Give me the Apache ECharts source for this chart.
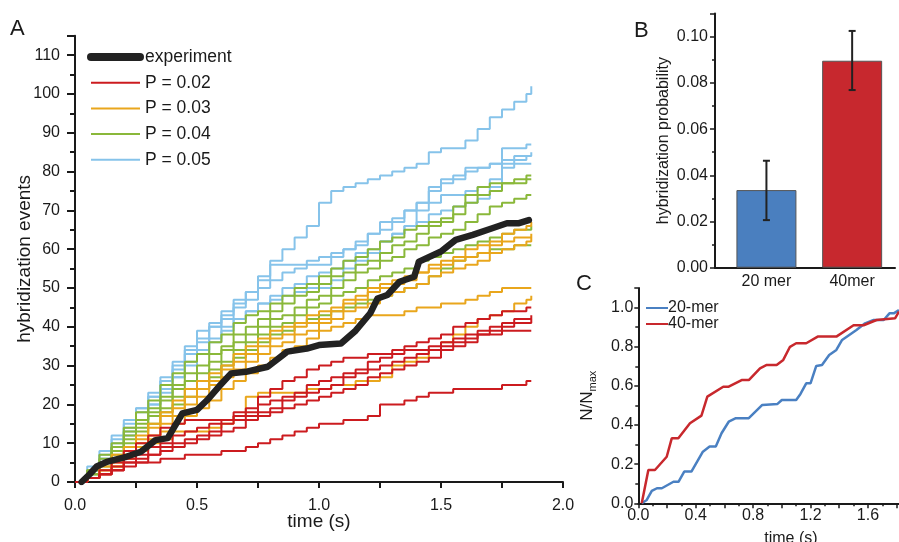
<!DOCTYPE html>
<html><head><meta charset="utf-8">
<script src="https://cdn.jsdelivr.net/npm/echarts@6/dist/echarts.min.js"></script>
<style>html,body{margin:0;padding:0;background:#fff}#c{width:899px;height:542px}</style>
</head><body><div id="c"></div><script>
// ---------- Panel A data ----------
const T = [0,0.05,0.1,0.15,0.2,0.25,0.3,0.35,0.4,0.45,0.5,0.55,0.6,0.65,0.7,0.75,0.8,0.85,0.9,0.95,1.0,1.05,1.1,1.15,1.2,1.25,1.3,1.35,1.4,1.45,1.5,1.55,1.6,1.65,1.7,1.75,1.8,1.85,1.87];
const p05a = [0,3,7,11,16,19,23,27,31,35,39,41,44,47,49,53,57,60,63,66,72,75,76,77,78,79,80,81,82,85,86,86,88,91,94,96,98,100,102];
const p05b = [0,2,5,8,12,16,20,24,27,31,34,37,40,42,44,46,47,48,49,50,50,52,55,57,59,62,64,66,70,72,74,74,75,76,78,86,86,87,87];
const p05c = [0,3,6,10,14,18,22,26,29,33,36,40,43,46,49,52,56,56,56,56,56,58,60,62,64,65,67,70,72,75,77,78,80,81,82,83,84,84,85];
const p05d = [0,3,6,9,13,16,20,23,27,30,33,36,39,42,44,46,48,50,51,53,54,55,57,59,60,62,64,66,67,69,70,71,72,73,76,81,83,84,84];
const p05e = [0,4,8,12,15,19,22,26,30,34,37,40,42,45,47,50,52,54,55,57,58,59,60,61,64,67,68,70,72,76,78,79,81,81,82,82,82,82,82];
const p04a = [0,3,7,10,14,18,21,25,28,31,33,36,38,41,43,44,46,48,50,51,53,55,57,58,60,62,63,65,66,67,68,71,74,76,77,77,78,79,79];
const p04b = [0,3,6,9,13,16,19,22,25,28,30,33,35,38,40,42,44,46,48,49,51,53,54,56,57,59,61,62,64,66,67,69,72,74,75,77,77,78,78];
const p04c = [0,2,5,9,12,15,18,21,24,26,28,31,34,36,38,40,42,43,45,47,48,50,52,54,55,57,58,60,61,63,64,65,67,69,71,72,73,74,74];
const p04d = [0,2,5,8,11,14,17,19,22,24,26,29,31,34,36,38,40,41,43,45,46,48,49,50,52,53,54,55,57,58,59,60,61,62,63,64,65,65,66];
const p04e = [0,2,4,7,10,13,15,18,20,22,24,27,30,32,34,36,38,39,41,42,43,44,45,46,47,48,49,50,51,53,55,57,58,59,60,60,61,61,61];
const p03a = [0,1,4,7,9,12,15,18,21,24,26,28,30,33,35,37,39,40,41,43,44,45,47,48,50,51,52,53,54,56,57,58,60,61,62,64,65,66,67];
const p03b = [0,1,3,6,8,11,14,17,19,22,24,26,29,31,33,35,37,38,40,41,42,44,46,47,49,50,51,52,54,55,56,57,58,59,61,62,63,63,64];
const p03c = [0,1,3,5,7,10,12,15,17,20,22,25,27,29,31,33,35,36,38,39,41,42,44,45,46,48,49,50,51,53,54,55,56,57,59,60,61,62,63];
const p03d = [0,1,2,4,7,9,11,13,15,17,19,21,24,26,28,30,32,34,35,37,39,40,41,42,43,43,43,44,45,45,46,46,47,48,49,50,50,50,50];
const p03e = [0,1,3,4,6,8,10,11,13,13,13,14,15,17,22,23,23,23,23,24,24,25,25,26,26,27,30,31,32,34,36,38,40,42,43,44,46,47,48];
const p02a = [0,1,3,5,8,10,12,14,15,16,16,16,16,18,19,22,24,26,27,29,30,31,32,32,33,33,34,35,36,37,38,40,41,42,43,44,44,45,45];
const p02b = [0,1,2,4,6,7,9,10,12,13,14,15,16,17,18,20,21,22,23,25,26,27,28,29,31,32,33,34,34,35,36,37,38,39,40,41,42,42,43];
const p02c = [0,1,2,3,5,6,7,9,10,11,12,13,15,16,17,18,19,21,22,23,24,25,27,28,29,30,31,32,33,34,35,36,37,38,39,40,41,41,42];
const p02d = [0,1,2,3,4,5,7,8,9,10,11,12,13,14,16,17,18,19,20,21,22,23,24,25,27,28,29,30,31,32,34,35,36,38,38,39,39,39,39];
const p02e = [0,1,2,3,5,5,5,6,6,7,7,7,8,8,9,10,11,12,13,14,15,15,16,16,17,20,20,21,22,23,23,24,24,24,24,25,25,26,26];
const expT = [0.027,0.06,0.089,0.13,0.21,0.27,0.33,0.38,0.44,0.5,0.54,0.59,0.64,0.7,0.79,0.87,0.95,1.0,1.09,1.15,1.21,1.24,1.28,1.33,1.39,1.41,1.5,1.56,1.63,1.71,1.77,1.82,1.86];
const expV = [0,2,4,5.2,6.5,7.8,10.8,11.3,17.7,18.6,21,24.6,28,28.4,29.7,33.6,34.4,35.3,35.7,39,43.5,47.3,48.2,51.6,52.9,56.8,59.4,62.4,63.7,65.4,66.7,66.7,67.5];

// ---------- Panel B data ----------
const barCats = ['20 mer','40mer'];
const barVals = [0.0336,0.0896];
const barLow = [0.0206,0.0769];
const barHigh = [0.0463,0.1025];

// ---------- Panel C data ----------
const t20 = [0.024,0.059,0.094,0.13,0.164,0.245,0.28,0.32,0.37,0.45,0.497,0.54,0.58,0.63,0.68,0.77,0.864,0.97,1.0,1.1,1.13,1.17,1.2,1.24,1.28,1.33,1.38,1.42,1.52,1.58,1.64,1.71,1.75,1.78,1.816];
const v20 = [0,0.017,0.063,0.077,0.077,0.11,0.11,0.162,0.162,0.264,0.29,0.29,0.358,0.417,0.435,0.435,0.503,0.508,0.528,0.528,0.559,0.613,0.613,0.702,0.707,0.758,0.784,0.835,0.886,0.92,0.937,0.937,0.971,0.971,0.988];
const t40 = [0.024,0.07,0.116,0.198,0.233,0.279,0.36,0.44,0.481,0.592,0.63,0.72,0.77,0.848,0.895,0.964,1.01,1.057,1.1,1.17,1.25,1.38,1.5,1.57,1.66,1.79,1.816];
const v40 = [0,0.17,0.17,0.238,0.332,0.332,0.409,0.448,0.545,0.596,0.596,0.63,0.63,0.69,0.707,0.707,0.733,0.8,0.818,0.818,0.852,0.852,0.91,0.91,0.937,0.946,0.98];

const FONT = '"Liberation Sans", Arial, Helvetica, sans-serif';
const INK = '#1a1a1a';
const COL = {'P = 0.02':'#cc1b1f','P = 0.03':'#e9a61c','P = 0.04':'#8ab83a','P = 0.05':'#86c3ea'};

function zip(a,b){return a.map((x,i)=>[x,b[i]]);}
function sim(name, vals){
  return {type:'line', name:name, xAxisIndex:0, yAxisIndex:0, step:'end', symbol:'none',
    data: zip(T, vals), lineStyle:{color:COL[name], width:2}, itemStyle:{color:COL[name]}, z:2};
}
function mult(v,s){return Math.abs(v/s - Math.round(v/s)) < 1e-6;}

const axisLineS = {lineStyle:{color:INK, width:2}};
const lbl = (extra)=>Object.assign({fontFamily:FONT, fontSize:16, color:INK}, extra);

const series = [];
[p05a,p05b,p05c,p05d,p05e].forEach(v=>series.push(sim('P = 0.05', v)));
[p04a,p04b,p04c,p04d,p04e].forEach(v=>series.push(sim('P = 0.04', v)));
[p03a,p03b,p03c,p03d,p03e].forEach(v=>series.push(sim('P = 0.03', v)));
[p02a,p02b,p02c,p02d,p02e].forEach(v=>series.push(sim('P = 0.02', v)));
series.push({type:'line', name:'experiment', xAxisIndex:0, yAxisIndex:0, symbol:'none', data: zip(expT, expV),
  lineStyle:{color:'#222', width:6.5, cap:'round', join:'round'}, itemStyle:{color:'#222'}, z:5});

series.push({type:'bar', xAxisIndex:1, yAxisIndex:1, barWidth:60,
  data: barVals.map((v,i)=>({value:[i+1, v], itemStyle:{color: i===0 ? '#4a7fbf' : '#c7282e'}})),
  itemStyle:{borderColor:'#555', borderWidth:1}});
series.push({type:'custom', xAxisIndex:1, yAxisIndex:1, z:10,
  data: barVals.map((v,i)=>[i+1, barLow[i], barHigh[i]]),
  renderItem:function(p, api){
    const top = api.coord([api.value(0), api.value(2)]);
    const bot = api.coord([api.value(0), api.value(1)]);
    const x = top[0], st = {stroke:'#222', lineWidth:2};
    return {type:'group', children:[
      {type:'line', shape:{x1:x, y1:top[1], x2:x, y2:bot[1]}, style:st},
      {type:'line', shape:{x1:x-3.5, y1:top[1], x2:x+3.5, y2:top[1]}, style:st},
      {type:'line', shape:{x1:x-3.5, y1:bot[1], x2:x+3.5, y2:bot[1]}, style:st}
    ]};
  }});

series.push({type:'line', name:'20-mer', xAxisIndex:2, yAxisIndex:2, symbol:'none', data: zip(t20, v20),
  lineStyle:{color:'#4a80c2', width:2.5}, itemStyle:{color:'#4a80c2'}});
series.push({type:'line', name:'40-mer', xAxisIndex:2, yAxisIndex:2, symbol:'none', data: zip(t40, v40),
  lineStyle:{color:'#c8282d', width:2.5}, itemStyle:{color:'#c8282d'}});

const option = {
  animation:false,
  backgroundColor:'#fff',
  textStyle:{fontFamily:FONT},
  grid:[
    {left:75, top:35.8, width:488, height:446.2, outerBoundsMode:'none'},
    {left:715, top:13.6, width:180, height:254.1, outerBoundsMode:'none'},
    {left:638.3, top:288.1, width:261.2, height:215.2, outerBoundsMode:'none'}
  ],
  legend:[
    {data:[{name:'experiment', lineStyle:{width:8, cap:'round'}},'P = 0.02','P = 0.03','P = 0.04','P = 0.05'],
     orient:'vertical', left:82, top:42, padding:5,
     itemWidth:49, itemHeight:14, itemGap:5.7, itemStyle:{opacity:0},
     textStyle:{fontFamily:FONT, fontSize:17.5, color:INK, lineHeight:20}},
    {data:['20-mer','40-mer'], orient:'vertical', left:640, top:295, padding:5,
     itemWidth:22, itemHeight:12, itemGap:0, itemStyle:{opacity:0},
     textStyle:{fontFamily:FONT, fontSize:16, color:INK, lineHeight:16, padding:[0,0,0,-5]}}
  ],
  xAxis:[
    {type:'value', gridIndex:0, min:0, max:2, interval:0.5, axisLine:axisLineS,
     axisTick:{length:6, lineStyle:{color:INK, width:2}},
     minorTick:{show:true, splitNumber:2, length:6, lineStyle:{color:INK, width:2}},
     axisLabel:lbl({formatter:v=>v.toFixed(1), margin:16}), splitLine:{show:false},
     name:'time (s)', nameLocation:'middle', nameGap:30, nameMoveOverlap:false,
     nameTextStyle:{fontFamily:FONT, fontSize:19, color:INK}},
    {type:'value', gridIndex:1, min:0.4, max:2.5, axisLine:axisLineS, axisTick:{show:false},
     axisLabel:lbl({customValues:[1,2], formatter:v=>barCats[Math.round(v)-1] || '', margin:6}), splitLine:{show:false}},
    {type:'value', gridIndex:2, min:0, max:1.82, interval:0.2, axisLine:axisLineS,
     axisTick:{length:5, lineStyle:{color:INK, width:1.5}},
     minorTick:{show:true, splitNumber:2, length:3, lineStyle:{color:INK, width:1.5}},
     axisLabel:lbl({formatter:v=> mult(v,0.4) ? v.toFixed(1) : '', margin:4}), splitLine:{show:false},
     name:'time (s)', nameLocation:'middle', nameGap:27, nameMoveOverlap:false,
     nameTextStyle:{fontFamily:FONT, fontSize:16, color:INK, padding:[0,0,0,44]}}
  ],
  yAxis:[
    {type:'value', gridIndex:0, min:0, max:115, interval:10, axisLine:axisLineS,
     axisTick:{length:8, lineStyle:{color:INK, width:2}},
     minorTick:{show:true, splitNumber:2, length:5, lineStyle:{color:INK, width:2}},
     axisLabel:lbl({formatter:v=> mult(v,10) ? String(Math.round(v)) : '', margin:15}), splitLine:{show:false},
     name:'hybridization events', nameLocation:'middle', nameGap:41, nameMoveOverlap:false,
     nameTextStyle:{fontFamily:FONT, fontSize:19, color:INK}},
    {type:'value', gridIndex:1, min:0, max:0.11, interval:0.02, axisLine:axisLineS,
     axisTick:{length:5, lineStyle:{color:INK, width:1.5}},
     minorTick:{show:true, splitNumber:2, length:3, lineStyle:{color:INK, width:1.5}},
     axisLabel:lbl({formatter:v=> mult(v,0.02) ? v.toFixed(2) : '', margin:7}), splitLine:{show:false},
     name:'hybridization probability', nameLocation:'middle', nameGap:43, nameMoveOverlap:false,
     nameTextStyle:{fontFamily:FONT, fontSize:16, color:INK}},
    {type:'value', gridIndex:2, min:0, max:1.1, interval:0.2, axisLine:axisLineS,
     axisTick:{length:4, lineStyle:{color:INK, width:1.5}},
     minorTick:{show:true, splitNumber:2, length:3, lineStyle:{color:INK, width:1.5}},
     axisLabel:lbl({formatter:v=> mult(v,0.2) ? v.toFixed(1) : '', margin:5}), splitLine:{show:false},
     name:'{n|N/N}{s|max}', nameLocation:'middle', nameGap:40, nameMoveOverlap:false,
     nameTextStyle:{fontFamily:FONT, color:INK, rich:{
       n:{fontFamily:FONT, fontSize:17, color:INK, lineHeight:22, verticalAlign:'middle'},
       s:{fontFamily:FONT, fontSize:11, color:INK, lineHeight:22, verticalAlign:'bottom', padding:[9,0,0,0]}}}}
  ],
  graphic:[
    {type:'text', x:10, y:18, style:{text:'A', font:'22px "Liberation Sans", Arial', fill:INK}},
    {type:'text', x:634, y:20, style:{text:'B', font:'22px "Liberation Sans", Arial', fill:INK}},
    {type:'text', x:576, y:273, style:{text:'C', font:'22px "Liberation Sans", Arial', fill:INK}}
  ],
  series: series
};
const chart = echarts.init(document.getElementById('c'), null, {renderer:'canvas'});
chart.setOption(option);
</script></body></html>
